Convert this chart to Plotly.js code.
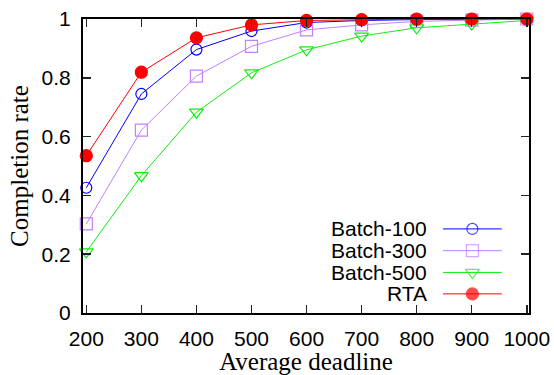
<!DOCTYPE html>
<html>
<head>
<meta charset="utf-8">
<script src="https://cdn.plot.ly/plotly-3.0.1.min.js"></script>
<style>html,body{margin:0;padding:0;background:#fff}#chart{width:554px;height:375px}</style>
</head>
<body>
<div id="chart"></div>
<script>
const deadlines = [200, 300, 400, 500, 600, 700, 800, 900, 1000];
const xTickVals = [200, 300, 400, 500, 600, 700, 800, 900, 1000];
const yTickVals = [0, 0.2, 0.4, 0.6, 0.8, 1];
const yTickText = ['0', '0.2', '0.4', '0.6', '0.8', '1'];
const seriesNames = ['Batch-100', 'Batch-300', 'Batch-500', 'RTA'];
const batch100 = [0.426, 0.745, 0.896, 0.959, 0.988, 0.995, 0.998, 1.0, 1.0];
const batch300 = [0.303, 0.622, 0.806, 0.907, 0.963, 0.980, 0.992, 0.996, 1.0];
const batch500 = [0.208, 0.467, 0.683, 0.817, 0.895, 0.942, 0.970, 0.983, 0.995];
const rta      = [0.535, 0.819, 0.936, 0.980, 0.995, 0.998, 1.0, 1.0, 1.0];

const seriesValues = [batch100, batch300, batch500, rta];
const styles = [
  {color: '#0000ff', symbol: 'circle-open', size: 11},
  {color: '#c080ff', symbol: 'square-open', size: 12},
  {color: '#11ee11', symbol: 'triangle-down-open', size: 12},
  {color: '#ff0000', symbol: 'circle', size: 12}
];

const traces = seriesValues.map((vals, i) => ({
  type: 'scatter', mode: 'lines+markers', x: deadlines, y: vals,
  name: seriesNames[i], cliponaxis: false,
  line: {color: styles[i].color, width: 1},
  marker: {symbol: styles[i].symbol, size: styles[i].size, color: styles[i].color,
           line: {color: styles[i].color, width: 1.2}},
  showlegend: false, hoverinfo: 'skip'
}));

// custom legend (text right-aligned, sample to the right of text)
const legX0 = 0.807, legX1 = 0.939, legXm = 0.873, legTextX = 0.776;
const legY = [0.286, 0.212, 0.138, 0.065];
const annotations = [];
seriesNames.forEach((nm, i) => {
  traces.push({
    type: 'scatter', mode: 'lines+markers', xaxis: 'x2', yaxis: 'y2',
    x: [legX0, legXm, legX1], y: [legY[i], legY[i], legY[i]],
    line: {color: styles[i].color, width: 1},
    marker: {symbol: styles[i].symbol, size: [0, styles[i].size, 0], color: styles[i].color,
             line: {color: styles[i].color, width: 1.2}},
    showlegend: false, hoverinfo: 'skip', cliponaxis: false
  });
  annotations.push({
    xref: 'paper', yref: 'paper', x: legTextX, y: legY[i], xanchor: 'right', yanchor: 'middle',
    text: nm, showarrow: false, font: {family: 'Liberation Sans, Arial, sans-serif', size: 21, color: '#000'}
  });
});

const layout = {
  width: 554, height: 375,
  margin: {l: 83, r: 25, t: 19, b: 62},
  paper_bgcolor: '#fff', plot_bgcolor: '#fff',
  showlegend: false,
  font: {family: 'Liberation Sans, Arial, sans-serif', size: 21, color: '#000'},
  xaxis: {
    range: [194, 1004], tickvals: xTickVals, ticktext: xTickVals.map(String),
    ticks: 'inside', ticklen: 8, tickwidth: 1.5, tickcolor: '#222',
    showline: true, linecolor: '#000', linewidth: 2, mirror: 'ticks',
    showgrid: false, zeroline: false,
    tickfont: {size: 21}, ticklabelstandoff: 6,
    title: {text: 'Average deadline', font: {family: 'Liberation Serif, Times New Roman, serif', size: 25}, standoff: 3}
  },
  yaxis: {
    range: [0, 1], tickvals: yTickVals, ticktext: yTickText,
    ticks: 'inside', ticklen: 8, tickwidth: 1.5, tickcolor: '#222',
    showline: true, linecolor: '#000', linewidth: 2, mirror: 'ticks',
    showgrid: false, zeroline: false,
    tickfont: {size: 21}, ticklabelstandoff: 6,
    title: {text: 'Completion rate', font: {family: 'Liberation Serif, Times New Roman, serif', size: 25}, standoff: 6}
  },
  xaxis2: {overlaying: 'x', range: [0, 1], visible: false, fixedrange: true},
  yaxis2: {overlaying: 'y', range: [0, 1], visible: false, fixedrange: true},
  annotations: annotations
};

Plotly.newPlot('chart', traces, layout, {staticPlot: true, displayModeBar: false});
</script>
</body>
</html>
